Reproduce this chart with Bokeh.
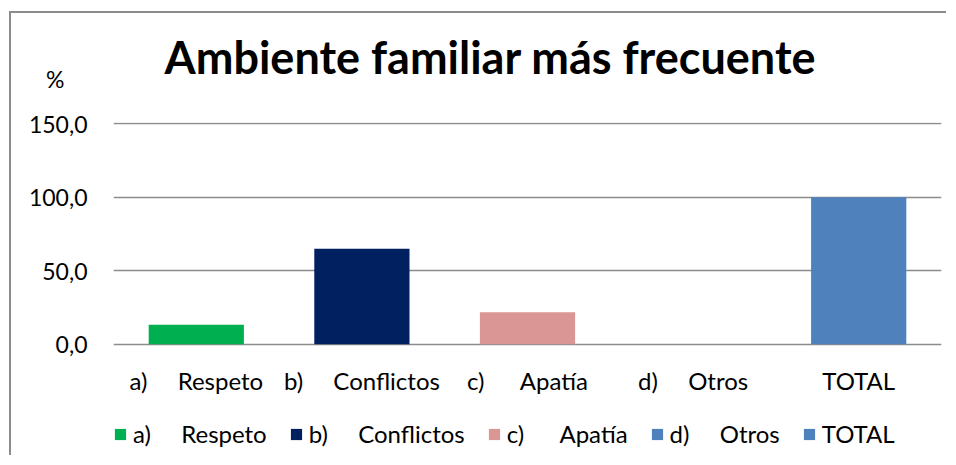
from bokeh.plotting import figure
from bokeh.models import ColumnDataSource, FactorRange, Range1d, FixedTicker, Legend, LegendItem, Title
from bokeh.core.properties import value
from bokeh.embed import file_html
from bokeh.resources import INLINE

# ---- data ----
categories = ["a)\u2003\u00a0\u00a0Respeto", "b)\u2003\u00a0\u00a0Conflictos",
              "c)\u2003\u2002\u00a0Apatía", "d)\u2003\u00a0\u00a0Otros", "TOTAL"]
values = [13.3, 65.0, 21.7, 0.0, 100.0]
colors = ["#00B050", "#002060", "#D99694", "#4F81BD", "#4F81BD"]
y_ticks = [0, 50, 100, 150]
y_tick_labels = ["0,0", "50,0", "100,0", "150,0"]
title_text = "Ambiente familiar más frecuente"
unit_text = "%"

FONT = "Lato"
LABEL_Y = -24.7   # baseline of the category labels, in axis units below 0

src = ColumnDataSource(dict(cat=categories, val=values, color=colors, label=categories,
                            ly=[LABEL_Y] * len(categories)))

p = figure(x_range=FactorRange(*categories), y_range=Range1d(-74.4, 150.9),
           width=937, height=444, output_backend="svg", toolbar_location=None,
           min_border_left=102, min_border_right=7, min_border_top=109, min_border_bottom=4)

p.styles = {"border-left": "2px solid #8c8c8c", "border-top": "2px solid #8c8c8c",
            "margin-left": "9px", "margin-top": "11px"}

r = p.vbar(x="cat", top="val", width=0.575, color="color", line_color=None, source=src)

# category labels under the bars
p.text(x="cat", y="ly", text="cat", source=src, text_font=value(FONT), text_font_size="24px",
       text_color="#000000", text_align="center", text_baseline="alphabetic")

p.outline_line_color = None
p.background_fill_color = "white"
p.border_fill_color = "white"

# grid
p.xgrid.grid_line_color = None
p.ygrid.ticker = FixedTicker(ticks=y_ticks)
p.ygrid.grid_line_color = "#8c8c8c"
p.ygrid.grid_line_width = 1.5

# y axis: the unit "%" sits above the top tick label
overrides = {t: l for t, l in zip(y_ticks, y_tick_labels)}
overrides[y_ticks[-1]] = unit_text + "\u2003\u2005\n" + y_tick_labels[-1] + "\n"
p.yaxis.ticker = FixedTicker(ticks=y_ticks)
p.yaxis.major_label_overrides = overrides
p.yaxis.axis_line_color = None
p.yaxis.major_tick_line_color = None
p.yaxis.minor_tick_line_color = None
p.yaxis.major_tick_out = 0
p.yaxis.major_label_standoff = 26
p.yaxis.major_label_text_font = FONT
p.yaxis.major_label_text_font_size = "23px"
p.yaxis.major_label_text_line_height = 1.6
p.yaxis.major_label_text_color = "#000000"

# x axis labels are drawn as text above
p.xaxis.visible = False

# title (a blank spacer panel keeps it at the right height)
spacer = Title(text=" ", standoff=22, text_font=FONT, text_font_size="12px")
main = Title(text=title_text, align="left", offset=51, standoff=0,
             text_font=FONT, text_font_size="45px", text_font_style="bold", text_color="#000000")
p.add_layout(spacer, "above")
p.add_layout(main, "above")

# legend (one row, at the bottom of the plot area)
legend = Legend(items=[LegendItem(label=categories[i], renderers=[r], index=i) for i in range(len(categories))],
                location=(0, 5), orientation="horizontal")
legend.padding = 0
legend.margin = 0
legend.spacing = 22
legend.glyph_width = 14
legend.glyph_height = 14
legend.label_standoff = 6
legend.label_text_font = FONT
legend.label_text_font_size = "24px"
legend.label_text_color = "#000000"
legend.border_line_color = None
legend.background_fill_alpha = 0
p.add_layout(legend, "center")

open("out.html", "w").write(file_html(p, INLINE))
